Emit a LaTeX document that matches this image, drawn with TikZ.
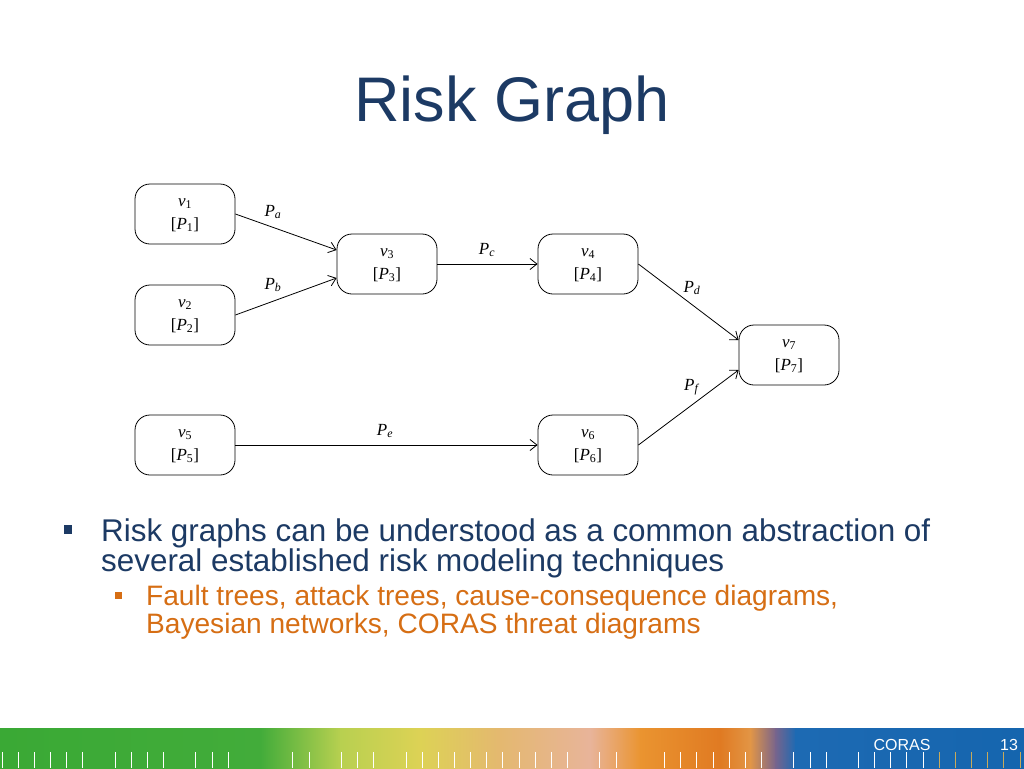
\documentclass[tikz,border=0pt]{standalone}
\usepackage{fontspec}
\setmainfont{Liberation Serif}
\newfontfamily\arialfont{Liberation Sans}
\usetikzlibrary{arrows.meta}
\definecolor{titleblue}{RGB}{28,58,100}
\definecolor{bodyorange}{RGB}{214,110,20}
\definecolor{cgreenA}{RGB}{58,169,53}
\definecolor{cgreenB}{RGB}{66,172,58}
\definecolor{cyelgreen}{RGB}{184,208,80}
\definecolor{cyellow}{RGB}{221,210,85}
\definecolor{cpeachA}{RGB}{228,184,112}
\definecolor{cpeachB}{RGB}{232,180,154}
\definecolor{corangeA}{RGB}{234,148,48}
\definecolor{corangeB}{RGB}{224,122,34}
\definecolor{corangeC}{RGB}{226,150,70}
\definecolor{cpurple}{RGB}{120,100,140}
\definecolor{cblueA}{RGB}{29,106,179}
\definecolor{cblueB}{RGB}{21,101,174}
\definecolor{ctick}{RGB}{200,170,90}
\tikzset{
  riskbox/.style={draw, line width=0.8pt, rounded corners=15pt, minimum width=100pt,
    minimum height=60pt, align=center, inner sep=0pt, text depth=-3pt, font=\fontsize{17}{23}\selectfont},
  plabel/.style={font=\fontsize{17}{19}\selectfont, inner sep=0pt},
  riskarrow/.style={line width=0.8pt, -{Straight Barb[length=7pt,width=11pt]}},
  tickline/.style={white, line width=1pt}
}
\newcommand{\vv}[1]{\textit{v}\textsubscript{#1}}
\newcommand{\pp}[1]{\textit{P}\textsubscript{#1}}
\begin{document}
\begin{tikzpicture}[x=1pt,y=-1pt]
\useasboundingbox (0,0) rectangle (1024,768);
\fill[white] (0,0) rectangle (1024,768);
% title
\node[font=\arialfont\fontsize{63}{70}\selectfont, text=titleblue, anchor=base] (title) at (512,121) {Risk Graph};
% boxes
\node[riskbox] (v1) at (185,214) {\vv{1}\\{}[\pp{1}]};
\node[riskbox] (v2) at (185,315) {\vv{2}\\{}[\pp{2}]};
\node[riskbox] (v3) at (387,264) {\vv{3}\\{}[\pp{3}]};
\node[riskbox] (v4) at (588,264) {\vv{4}\\{}[\pp{4}]};
\node[riskbox] (v7) at (789,355) {\vv{7}\\{}[\pp{7}]};
\node[riskbox] (v5) at (185,445) {\vv{5}\\{}[\pp{5}]};
\node[riskbox] (v6) at (588,445) {\vv{6}\\{}[\pp{6}]};
% arrows
\draw[riskarrow] (v1.east) -- ([yshift=14pt]v3.west);
\draw[riskarrow] (v2.east) -- ([yshift=-14pt]v3.west);
\draw[riskarrow] (v3.east) -- (v4.west);
\draw[riskarrow] (v4.east) -- ([yshift=15pt]v7.west);
\draw[riskarrow] (v6.east) -- ([yshift=-15pt]v7.west);
\draw[riskarrow] (v5.east) -- (v6.west);
% labels
\node[plabel] (la) at (273,212) {\textit{P}\textsubscript{\textit{a}}};
\node[plabel] (lb) at (273,285) {\textit{P}\textsubscript{\textit{b}}};
\node[plabel] (lc) at (487,250) {\textit{P}\textsubscript{\textit{c}}};
\node[plabel] (ld) at (692,288) {\textit{P}\textsubscript{\textit{d}}};
\node[plabel] (lf) at (692,387) {\textit{P}\textsubscript{\textit{f}}};
\node[plabel] (le) at (385,431) {\textit{P}\textsubscript{\textit{e}}};
% bullets
\fill[titleblue] (64,525) rectangle (72,534);
\node[anchor=base west, inner sep=0pt, text=titleblue, font=\arialfont\fontsize{31.4}{31}\selectfont] (t1) at (101,541) {Risk graphs can be understood as a common abstraction of};
\node[anchor=base west, inner sep=0pt, text=titleblue, font=\arialfont\fontsize{31.4}{31}\selectfont] (t2) at (101,571) {several established risk modeling techniques};
\fill[bodyorange] (115,592) rectangle (122,599);
\node[anchor=base west, inner sep=0pt, text=bodyorange, font=\arialfont\fontsize{28.1}{28}\selectfont] (s1) at (146,605) {Fault trees, attack trees, cause-consequence diagrams,};
\node[anchor=base west, inner sep=0pt, text=bodyorange, font=\arialfont\fontsize{28.1}{28}\selectfont] (s2) at (146,633) {Bayesian networks, CORAS threat diagrams};
% bottom bar
\shade[left color=cgreenA, right color=cgreenB] (0,728) rectangle (261,768);
\shade[left color=cgreenB, right color=cyelgreen] (260,728) rectangle (341,768);
\shade[left color=cyelgreen, right color=cyellow] (340,728) rectangle (421,768);
\shade[left color=cyellow, right color=cpeachA] (420,728) rectangle (501,768);
\shade[left color=cpeachA, right color=cpeachB] (500,728) rectangle (591,768);
\shade[left color=cpeachB, right color=corangeA] (590,728) rectangle (641,768);
\shade[left color=corangeA, right color=corangeB] (640,728) rectangle (721,768);
\shade[left color=corangeB, right color=corangeC] (720,728) rectangle (751,768);
\shade[left color=corangeC, right color=cpurple] (750,728) rectangle (776,768);
\shade[left color=cpurple, right color=cblueA] (775,728) rectangle (796,768);
\shade[left color=cblueA, right color=cblueB] (795,728) rectangle (1024,768);
\foreach \s in {0,1,2,3,4,5,7,8,9,10,12,13,14,18,19,21,22,23,25,26,27,28,29,30,31,32,33,34,35,37,38,41,42,43,44,45,46,47,49,50,51,53,54,55,56,57}
  \draw[tickline] ({2+16.16*\s},752) -- ({2+16.16*\s},768);
\foreach \s in {58,...,63}
  \draw[tickline, ctick] ({2+16.16*\s},752) -- ({2+16.16*\s},768);
\node[anchor=base, text=white, inner sep=0pt, font=\arialfont\fontsize{16}{16}\selectfont] (coras) at (902,750) {CORAS};
\node[anchor=base, text=white, inner sep=0pt, font=\arialfont\fontsize{16}{16}\selectfont] (pnum) at (1009,750) {13};
\end{tikzpicture}
\end{document}
